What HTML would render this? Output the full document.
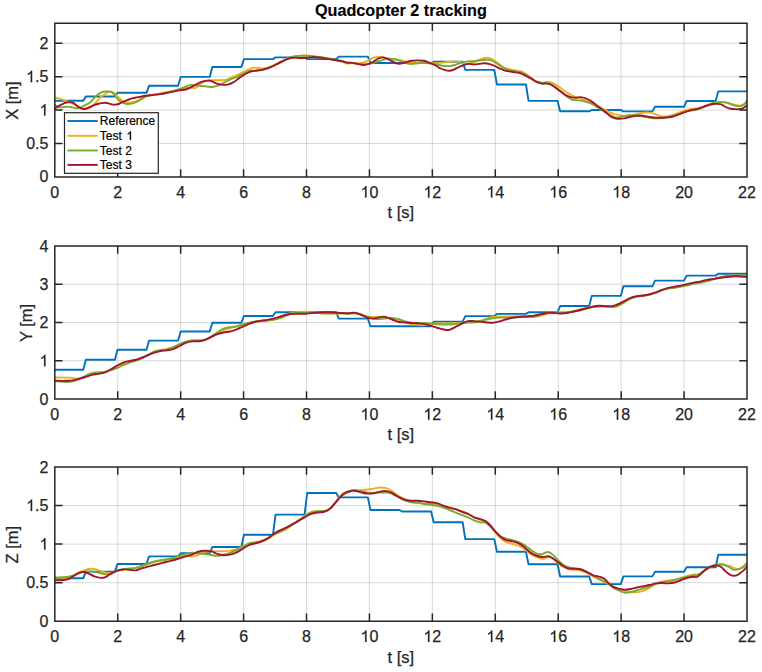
<!DOCTYPE html>
<html><head><meta charset="utf-8"><style>html,body{margin:0;padding:0;background:#fff;width:762px;height:672px;overflow:hidden}svg{display:block}text{stroke:currentColor;stroke-width:0.25px}.lg text{stroke-width:0.2px}text.ti{stroke-width:0.12px}</style></head>
<body>
<svg width="762" height="672" viewBox="0 0 762 672">
<rect width="762" height="672" fill="#fff"/>
<rect x="54.80" y="23.20" width="692.20" height="153.70" fill="#fff"/>
<line x1="117.73" y1="23.20" x2="117.73" y2="176.90" stroke="#262626" stroke-opacity="0.17" stroke-width="1"/>
<line x1="180.65" y1="23.20" x2="180.65" y2="176.90" stroke="#262626" stroke-opacity="0.17" stroke-width="1"/>
<line x1="243.58" y1="23.20" x2="243.58" y2="176.90" stroke="#262626" stroke-opacity="0.17" stroke-width="1"/>
<line x1="306.51" y1="23.20" x2="306.51" y2="176.90" stroke="#262626" stroke-opacity="0.17" stroke-width="1"/>
<line x1="369.44" y1="23.20" x2="369.44" y2="176.90" stroke="#262626" stroke-opacity="0.17" stroke-width="1"/>
<line x1="432.36" y1="23.20" x2="432.36" y2="176.90" stroke="#262626" stroke-opacity="0.17" stroke-width="1"/>
<line x1="495.29" y1="23.20" x2="495.29" y2="176.90" stroke="#262626" stroke-opacity="0.17" stroke-width="1"/>
<line x1="558.22" y1="23.20" x2="558.22" y2="176.90" stroke="#262626" stroke-opacity="0.17" stroke-width="1"/>
<line x1="621.15" y1="23.20" x2="621.15" y2="176.90" stroke="#262626" stroke-opacity="0.17" stroke-width="1"/>
<line x1="684.07" y1="23.20" x2="684.07" y2="176.90" stroke="#262626" stroke-opacity="0.17" stroke-width="1"/>
<line x1="54.80" y1="143.49" x2="747.00" y2="143.49" stroke="#262626" stroke-opacity="0.17" stroke-width="1"/>
<line x1="54.80" y1="110.07" x2="747.00" y2="110.07" stroke="#262626" stroke-opacity="0.17" stroke-width="1"/>
<line x1="54.80" y1="76.66" x2="747.00" y2="76.66" stroke="#262626" stroke-opacity="0.17" stroke-width="1"/>
<line x1="54.80" y1="43.25" x2="747.00" y2="43.25" stroke="#262626" stroke-opacity="0.17" stroke-width="1"/>
<g fill="none" stroke-width="1.90" stroke-linejoin="round" stroke-linecap="butt">
<path d="M54.80,100.80 L83.25,100.80 L85.85,96.50 L114.87,96.50 L117.47,92.80 L146.49,92.80 L149.09,85.70 L178.11,85.70 L180.71,76.90 L209.73,76.90 L212.33,67.00 L241.35,67.00 L243.95,59.10 L272.97,59.10 L275.57,57.40 L304.59,57.40 L307.19,59.10 L336.21,59.10 L338.81,56.60 L367.83,56.60 L370.43,63.00 L399.45,63.00 L402.05,63.00 L431.07,63.00 L433.67,61.80 L462.69,61.80 L465.29,69.90 L494.31,69.90 L496.91,84.50 L525.93,84.50 L528.53,100.90 L557.55,100.90 L560.15,111.30 L589.17,111.30 L591.77,110.00 L620.79,110.00 L623.39,111.40 L652.41,111.40 L655.01,106.75 L684.03,106.75 L686.63,101.00 L715.65,101.00 L718.25,91.40 L747.00,91.40" stroke="#0072BD"/>
<path d="M54.80,97.48 C55.76,97.70 58.51,98.14 60.56,98.80 C62.62,99.45 65.15,100.65 67.12,101.42 C69.09,102.19 70.84,102.68 72.37,103.39 C73.90,104.10 75.00,104.97 76.31,105.69 C77.62,106.40 78.93,107.16 80.25,107.65 C81.56,108.15 82.87,108.53 84.18,108.64 C85.50,108.75 86.81,108.69 88.12,108.31 C89.43,107.93 90.75,107.33 92.06,106.34 C93.37,105.36 94.68,103.83 95.99,102.40 C97.31,100.98 98.83,98.91 99.93,97.81 C101.04,96.71 101.63,96.53 102.62,95.81 C103.62,95.09 104.81,94.17 105.91,93.51 C107.00,92.86 108.20,92.20 109.19,91.87 C110.17,91.55 110.94,91.33 111.81,91.55 C112.69,91.76 113.56,92.48 114.44,93.19 C115.31,93.90 116.19,94.94 117.06,95.81 C117.94,96.69 118.81,97.62 119.69,98.44 C120.56,99.26 121.33,100.08 122.31,100.73 C123.29,101.39 124.50,102.04 125.59,102.37 C126.68,102.70 127.78,102.70 128.87,102.70 C129.97,102.70 130.95,102.65 132.15,102.37 C133.36,102.10 134.67,101.61 136.09,101.06 C137.51,100.51 139.04,99.86 140.68,99.09 C142.32,98.33 142.61,97.40 145.93,96.47 C149.25,95.53 156.05,94.41 160.60,93.50 C165.14,92.58 170.05,91.71 173.20,90.98 C176.35,90.24 177.40,89.61 179.50,89.09 C181.60,88.56 183.70,88.04 185.80,87.83 C187.90,87.62 190.41,87.83 192.09,87.83 C193.77,87.83 194.40,88.56 195.87,87.83 C197.34,87.09 199.02,84.57 200.91,83.42 C202.80,82.26 205.11,81.42 207.21,80.90 C209.31,80.37 211.41,80.37 213.51,80.27 C215.61,80.16 217.71,80.37 219.81,80.27 C221.91,80.16 223.80,80.27 226.11,79.64 C228.42,79.01 229.97,78.16 233.67,76.49 C237.37,74.82 245.02,71.07 248.30,69.61 C251.58,68.14 251.66,67.99 253.34,67.72 C255.02,67.44 256.70,67.86 258.38,67.97 C260.06,68.07 261.32,68.60 263.42,68.35 C265.52,68.09 268.67,67.30 270.98,66.46 C273.29,65.62 275.18,64.36 277.28,63.31 C279.38,62.26 281.48,61.10 283.57,60.16 C285.67,59.21 287.77,58.27 289.87,57.64 C291.97,57.01 294.07,56.69 296.17,56.38 C298.27,56.06 300.37,55.85 302.47,55.75 C304.57,55.64 306.67,55.64 308.77,55.75 C310.87,55.85 312.55,56.06 315.07,56.38 C317.59,56.69 319.56,56.80 323.89,57.64 C328.22,58.48 337.34,60.47 341.04,61.42 C344.74,62.36 344.19,62.99 346.08,63.31 C347.97,63.62 350.28,63.31 352.38,63.31 C354.48,63.31 356.79,63.45 358.68,63.31 C360.57,63.16 362.04,62.95 363.72,62.43 C365.40,61.90 367.08,60.96 368.76,60.16 C370.44,59.36 372.12,58.16 373.80,57.64 C375.48,57.11 377.15,57.01 378.83,57.01 C380.51,57.01 381.98,57.32 383.87,57.64 C385.76,57.95 388.07,58.52 390.17,58.90 C392.27,59.28 394.37,59.59 396.47,59.91 C398.57,60.22 400.67,60.43 402.77,60.79 C404.87,61.14 406.97,61.73 409.07,62.05 C411.17,62.36 413.27,62.57 415.37,62.68 C417.47,62.78 419.57,62.68 421.67,62.68 C423.77,62.68 425.53,62.59 427.97,62.68 C430.41,62.77 433.86,63.24 436.30,63.23 C438.74,63.22 440.50,62.81 442.60,62.60 C444.70,62.39 446.80,62.18 448.90,61.97 C451.00,61.76 453.31,61.34 455.20,61.34 C457.09,61.34 458.56,61.55 460.24,61.97 C461.92,62.39 463.60,63.65 465.28,63.86 C466.96,64.07 468.64,63.54 470.31,63.23 C471.99,62.91 473.67,62.60 475.35,61.97 C477.03,61.34 478.71,60.14 480.39,59.45 C482.07,58.76 483.96,58.08 485.43,57.81 C486.90,57.54 487.95,57.54 489.21,57.81 C490.47,58.08 491.52,58.55 492.99,59.45 C494.46,60.35 496.35,61.97 498.03,63.23 C499.71,64.49 501.39,66.06 503.07,67.01 C504.75,67.95 506.01,68.33 508.11,68.90 C510.21,69.46 513.36,69.95 515.67,70.41 C517.98,70.87 519.53,70.58 521.97,71.67 C524.41,72.76 527.86,75.32 530.30,76.93 C532.74,78.54 534.50,80.39 536.60,81.34 C538.70,82.28 540.80,82.49 542.90,82.60 C545.00,82.70 547.31,81.76 549.20,81.97 C551.09,82.18 552.56,83.02 554.24,83.86 C555.92,84.70 557.60,85.85 559.28,87.01 C560.96,88.16 562.64,89.63 564.31,90.79 C565.99,91.94 567.67,92.95 569.35,93.94 C571.03,94.92 572.71,95.97 574.39,96.71 C576.07,97.44 577.75,97.76 579.43,98.35 C581.11,98.93 582.79,99.61 584.47,100.24 C586.15,100.87 587.83,101.39 589.51,102.13 C591.19,102.86 592.87,103.81 594.55,104.65 C596.23,105.49 597.91,106.33 599.59,107.17 C601.27,108.01 602.95,108.85 604.63,109.69 C606.31,110.52 607.99,111.47 609.67,112.20 C611.35,112.94 612.27,113.49 614.71,114.09 C617.15,114.70 621.65,115.64 624.30,115.83 C626.95,116.01 628.50,115.51 630.60,115.20 C632.70,114.88 634.80,114.36 636.90,113.94 C639.00,113.52 641.10,112.89 643.20,112.68 C645.30,112.47 647.61,112.47 649.50,112.68 C651.39,112.89 652.86,113.41 654.54,113.94 C656.22,114.46 657.90,115.41 659.57,115.83 C661.25,116.25 662.93,116.46 664.61,116.46 C666.29,116.46 667.76,116.25 669.65,115.83 C671.54,115.41 673.85,114.67 675.95,113.94 C678.05,113.20 680.15,112.15 682.25,111.42 C684.35,110.68 686.45,109.99 688.55,109.53 C690.65,109.07 692.75,108.90 694.85,108.65 C696.95,108.39 699.33,108.46 701.15,108.02 C702.97,107.57 704.33,106.65 705.75,105.98 C707.17,105.32 708.37,104.54 709.69,104.02 C711.00,103.49 712.31,103.10 713.62,102.83 C714.93,102.57 716.25,102.57 717.56,102.44 C718.87,102.31 720.18,102.05 721.50,102.05 C722.81,102.05 724.12,102.24 725.43,102.44 C726.75,102.64 728.06,102.90 729.37,103.23 C730.68,103.56 731.99,104.08 733.31,104.41 C734.62,104.74 735.93,105.00 737.24,105.20 C738.56,105.39 740.00,105.72 741.18,105.59 C742.36,105.46 743.36,104.87 744.33,104.41 C745.30,103.95 746.56,103.10 747.00,102.83" stroke="#EDB120"/>
<path d="M54.80,104.70 C55.32,105.08 56.65,106.56 57.94,107.00 C59.23,107.43 61.00,107.38 62.53,107.33 C64.06,107.27 65.48,106.67 67.12,106.67 C68.76,106.67 70.73,107.05 72.37,107.33 C74.01,107.60 75.54,108.31 76.97,108.31 C78.39,108.31 79.48,107.87 80.90,107.33 C82.32,106.78 83.97,105.85 85.50,105.03 C87.03,104.21 88.56,103.66 90.09,102.40 C91.62,101.15 93.26,98.90 94.68,97.48 C96.10,96.06 97.19,94.83 98.62,93.87 C100.05,92.92 101.96,92.13 103.28,91.74 C104.60,91.35 105.36,91.58 106.56,91.55 C107.76,91.51 109.41,91.27 110.50,91.55 C111.59,91.82 112.25,92.37 113.12,93.19 C114.00,94.01 114.87,95.37 115.75,96.47 C116.62,97.56 117.50,98.87 118.37,99.75 C119.25,100.62 120.01,101.12 121.00,101.72 C121.98,102.32 123.18,102.97 124.28,103.36 C125.37,103.74 126.36,103.96 127.56,104.01 C128.76,104.07 130.18,103.96 131.50,103.69 C132.81,103.41 134.12,102.92 135.43,102.37 C136.75,101.83 138.06,101.12 139.37,100.40 C140.68,99.69 141.99,98.87 143.31,98.11 C144.62,97.34 144.36,96.54 147.24,95.81 C150.13,95.08 156.27,94.51 160.60,93.75 C164.92,92.98 170.05,92.01 173.20,91.23 C176.35,90.45 177.40,89.86 179.50,89.09 C181.60,88.31 183.91,87.26 185.80,86.57 C187.69,85.87 189.15,85.14 190.83,84.93 C192.51,84.72 194.19,85.14 195.87,85.31 C197.55,85.48 199.02,85.73 200.91,85.94 C202.80,86.15 205.32,86.40 207.21,86.57 C209.10,86.73 210.36,87.15 212.25,86.94 C214.14,86.73 216.66,86.00 218.55,85.31 C220.44,84.61 221.70,83.73 223.59,82.79 C225.48,81.84 227.79,80.58 229.89,79.64 C231.99,78.69 233.12,78.48 236.19,77.12 C239.26,75.76 245.23,72.58 248.30,71.50 C251.37,70.41 252.08,70.99 254.60,70.61 C257.12,70.24 260.69,69.88 263.42,69.23 C266.15,68.58 268.67,67.59 270.98,66.71 C273.29,65.83 275.18,64.92 277.28,63.94 C279.38,62.95 281.48,61.88 283.57,60.79 C285.67,59.70 287.77,58.16 289.87,57.39 C291.97,56.61 294.07,56.42 296.17,56.13 C298.27,55.83 300.37,55.69 302.47,55.62 C304.57,55.56 306.67,55.58 308.77,55.75 C310.87,55.92 312.55,56.31 315.07,56.63 C317.59,56.94 319.56,56.94 323.89,57.64 C328.22,58.33 337.34,59.99 341.04,60.79 C344.74,61.59 344.19,62.07 346.08,62.43 C347.97,62.78 350.28,62.68 352.38,62.93 C354.48,63.18 356.79,63.71 358.68,63.94 C360.57,64.17 362.04,64.31 363.72,64.31 C365.40,64.31 367.08,64.21 368.76,63.94 C370.44,63.66 371.91,63.20 373.80,62.68 C375.69,62.15 377.99,61.42 380.09,60.79 C382.19,60.16 384.50,59.25 386.39,58.90 C388.28,58.54 389.75,58.54 391.43,58.65 C393.11,58.75 394.79,59.11 396.47,59.53 C398.15,59.95 399.83,60.54 401.51,61.17 C403.19,61.80 404.87,62.85 406.55,63.31 C408.23,63.77 409.70,63.94 411.59,63.94 C413.48,63.94 415.79,63.52 417.89,63.31 C419.99,63.10 421.12,62.48 424.19,62.68 C427.26,62.87 433.23,63.98 436.30,64.49 C439.37,65.00 440.50,65.48 442.60,65.75 C444.70,66.02 446.80,66.27 448.90,66.13 C451.00,65.98 453.10,65.45 455.20,64.87 C457.30,64.28 459.40,63.19 461.50,62.60 C463.60,62.01 465.70,61.59 467.80,61.34 C469.90,61.09 471.99,61.25 474.09,61.09 C476.19,60.92 478.29,60.60 480.39,60.33 C482.49,60.06 485.01,59.49 486.69,59.45 C488.37,59.41 489.21,59.66 490.47,60.08 C491.73,60.50 492.78,61.13 494.25,61.97 C495.72,62.81 497.61,64.07 499.29,65.12 C500.97,66.17 502.65,67.43 504.33,68.27 C506.01,69.11 507.48,69.63 509.37,70.16 C511.26,70.68 513.57,71.00 515.67,71.42 C517.77,71.84 519.53,71.61 521.97,72.68 C524.41,73.74 527.86,76.26 530.30,77.81 C532.74,79.36 534.71,81.11 536.60,81.97 C538.49,82.83 539.96,82.87 541.64,82.98 C543.32,83.08 545.00,82.35 546.68,82.60 C548.36,82.85 550.04,83.54 551.72,84.49 C553.40,85.43 555.08,87.01 556.76,88.27 C558.44,89.53 560.12,90.68 561.80,92.05 C563.48,93.41 565.15,95.20 566.83,96.46 C568.51,97.72 570.19,98.98 571.87,99.61 C573.55,100.24 575.23,100.03 576.91,100.24 C578.59,100.45 580.27,100.55 581.95,100.87 C583.63,101.18 585.31,101.60 586.99,102.13 C588.67,102.65 590.35,103.18 592.03,104.02 C593.71,104.86 595.39,106.12 597.07,107.17 C598.75,108.22 600.43,109.27 602.11,110.31 C603.79,111.36 605.47,112.52 607.15,113.46 C608.83,114.41 610.51,115.29 612.19,115.98 C613.87,116.68 615.21,117.65 617.23,117.62 C619.25,117.60 622.07,116.23 624.30,115.83 C626.53,115.42 628.50,115.30 630.60,115.20 C632.70,115.09 634.80,114.99 636.90,115.20 C639.00,115.41 641.10,116.04 643.20,116.46 C645.30,116.88 647.40,117.40 649.50,117.72 C651.60,118.03 653.70,118.30 655.80,118.35 C657.90,118.39 659.99,118.18 662.09,117.97 C664.19,117.76 666.29,117.55 668.39,117.09 C670.49,116.62 672.59,115.83 674.69,115.20 C676.79,114.57 678.89,113.94 680.99,113.31 C683.09,112.68 685.19,111.94 687.29,111.42 C689.39,110.89 691.49,110.58 693.59,110.16 C695.69,109.74 697.86,109.59 699.89,108.90 C701.92,108.20 704.12,106.80 705.75,105.98 C707.38,105.17 708.37,104.54 709.69,104.02 C711.00,103.49 712.31,103.10 713.62,102.83 C714.93,102.57 716.25,102.60 717.56,102.44 C718.87,102.28 720.18,101.89 721.50,101.89 C722.81,101.89 724.12,102.15 725.43,102.44 C726.75,102.73 728.06,103.16 729.37,103.62 C730.68,104.08 731.99,104.80 733.31,105.20 C734.62,105.59 735.93,105.88 737.24,105.98 C738.56,106.09 740.00,106.15 741.18,105.83 C742.36,105.50 743.36,104.88 744.33,104.02 C745.30,103.15 746.56,101.19 747.00,100.63" stroke="#77AC30"/>
<path d="M54.80,108.64 C55.54,108.15 57.63,106.61 59.25,105.69 C60.87,104.76 62.75,103.66 64.50,103.06 C66.25,102.46 68.22,102.08 69.75,102.08 C71.28,102.08 72.37,102.35 73.69,103.06 C75.00,103.77 76.31,105.41 77.62,106.34 C78.93,107.27 80.36,108.20 81.56,108.64 C82.76,109.08 83.64,109.13 84.84,108.97 C86.04,108.80 87.36,108.26 88.78,107.65 C90.20,107.05 91.73,106.01 93.37,105.36 C95.01,104.70 97.08,104.10 98.62,103.72 C100.16,103.33 101.47,103.20 102.62,103.03 C103.78,102.86 104.59,102.65 105.58,102.70 C106.56,102.76 107.49,103.08 108.53,103.36 C109.57,103.63 110.72,104.12 111.81,104.34 C112.90,104.56 114.00,104.72 115.09,104.67 C116.19,104.61 117.28,104.40 118.37,104.01 C119.47,103.63 120.56,102.86 121.65,102.37 C122.75,101.88 123.84,101.50 124.93,101.06 C126.03,100.62 127.01,100.19 128.22,99.75 C129.42,99.31 130.84,98.82 132.15,98.44 C133.46,98.05 134.67,97.72 136.09,97.45 C137.51,97.18 139.15,97.07 140.68,96.80 C142.21,96.52 141.96,96.26 145.28,95.81 C148.59,95.37 156.99,94.62 160.60,94.13 C164.20,93.64 164.80,93.29 166.90,92.87 C169.00,92.45 171.10,92.03 173.20,91.61 C175.30,91.19 177.40,90.70 179.50,90.35 C181.60,89.99 184.12,89.88 185.80,89.46 C187.48,89.04 188.10,88.52 189.57,87.83 C191.04,87.13 192.72,86.25 194.61,85.31 C196.50,84.36 198.81,82.93 200.91,82.16 C203.01,81.38 205.53,80.86 207.21,80.65 C208.89,80.44 209.52,80.44 210.99,80.90 C212.46,81.36 214.35,82.79 216.03,83.42 C217.71,84.05 219.18,84.47 221.07,84.68 C222.96,84.89 225.27,85.10 227.37,84.68 C229.47,84.26 231.78,83.21 233.67,82.16 C235.56,81.11 236.69,79.78 238.71,78.38 C240.73,76.98 243.76,74.91 245.78,73.76 C247.80,72.62 248.93,72.02 250.82,71.50 C252.71,70.97 255.02,70.93 257.12,70.61 C259.22,70.30 261.11,70.19 263.42,69.61 C265.73,69.02 268.67,68.03 270.98,67.09 C273.29,66.14 275.18,64.99 277.28,63.94 C279.38,62.89 281.48,61.73 283.57,60.79 C285.67,59.84 287.98,58.79 289.87,58.27 C291.76,57.74 293.02,57.68 294.91,57.64 C296.80,57.60 299.11,58.02 301.21,58.02 C303.31,58.02 305.41,57.81 307.51,57.64 C309.61,57.47 311.71,57.01 313.81,57.01 C315.91,57.01 317.80,57.32 320.11,57.64 C322.42,57.95 324.18,58.31 327.67,58.90 C331.16,59.49 337.97,60.58 341.04,61.17 C344.11,61.75 344.19,62.13 346.08,62.43 C347.97,62.72 350.28,62.64 352.38,62.93 C354.48,63.22 356.79,63.85 358.68,64.19 C360.57,64.52 362.04,64.99 363.72,64.94 C365.40,64.90 367.08,64.52 368.76,63.94 C370.44,63.35 372.12,62.36 373.80,61.42 C375.48,60.47 377.26,58.94 378.83,58.27 C380.41,57.60 381.56,57.18 383.24,57.39 C384.92,57.60 387.13,58.75 388.91,59.53 C390.70,60.30 392.27,61.35 393.95,62.05 C395.63,62.74 397.10,63.62 398.99,63.69 C400.88,63.75 403.19,62.91 405.29,62.43 C407.39,61.94 409.49,61.12 411.59,60.79 C413.69,60.45 415.79,60.41 417.89,60.41 C419.99,60.41 422.30,60.41 424.19,60.79 C426.08,61.17 427.42,61.96 429.23,62.68 C431.04,63.40 433.23,64.19 435.04,65.12 C436.85,66.05 438.40,67.43 440.08,68.27 C441.76,69.11 443.54,69.74 445.12,70.16 C446.69,70.58 448.06,70.89 449.53,70.79 C451.00,70.68 452.36,70.16 453.94,69.53 C455.51,68.90 457.30,67.78 458.98,67.01 C460.66,66.23 462.34,65.39 464.02,64.87 C465.70,64.34 467.38,63.92 469.06,63.86 C470.73,63.80 472.41,64.49 474.09,64.49 C475.77,64.49 477.45,64.07 479.13,63.86 C480.81,63.65 482.49,63.23 484.17,63.23 C485.85,63.23 487.53,63.44 489.21,63.86 C490.89,64.28 492.57,65.01 494.25,65.75 C495.93,66.48 497.61,67.49 499.29,68.27 C500.97,69.04 502.65,69.88 504.33,70.41 C506.01,70.93 507.48,71.08 509.37,71.42 C511.26,71.75 513.78,72.11 515.67,72.43 C517.56,72.74 518.27,72.35 520.71,73.31 C523.15,74.27 527.65,76.75 530.30,78.19 C532.95,79.63 534.71,81.07 536.60,81.97 C538.49,82.87 539.96,83.33 541.64,83.61 C543.32,83.88 545.21,83.46 546.68,83.61 C548.15,83.75 548.99,83.82 550.46,84.49 C551.93,85.16 553.82,86.48 555.50,87.64 C557.18,88.79 558.86,90.16 560.54,91.42 C562.22,92.68 563.90,94.25 565.57,95.20 C567.25,96.14 568.93,96.67 570.61,97.09 C572.29,97.51 573.97,97.72 575.65,97.72 C577.33,97.72 579.01,96.98 580.69,97.09 C582.37,97.19 584.05,97.72 585.73,98.35 C587.41,98.98 589.09,99.82 590.77,100.87 C592.45,101.92 594.13,103.39 595.81,104.65 C597.49,105.91 599.17,107.17 600.85,108.43 C602.53,109.69 604.21,110.84 605.89,112.20 C607.57,113.57 609.25,115.56 610.93,116.61 C612.61,117.66 613.74,118.22 615.97,118.50 C618.20,118.79 621.86,118.65 624.30,118.35 C626.74,118.05 628.50,117.13 630.60,116.71 C632.70,116.29 635.22,116.02 636.90,115.83 C638.58,115.64 639.00,115.47 640.68,115.57 C642.36,115.68 644.88,116.14 646.98,116.46 C649.08,116.77 651.18,117.25 653.28,117.46 C655.38,117.67 657.48,117.72 659.57,117.72 C661.67,117.72 663.77,117.63 665.87,117.46 C667.97,117.30 670.07,117.19 672.17,116.71 C674.27,116.23 676.37,115.34 678.47,114.57 C680.57,113.79 682.67,112.78 684.77,112.05 C686.87,111.31 688.97,110.68 691.07,110.16 C693.17,109.63 694.92,109.59 697.37,108.90 C699.82,108.20 703.70,106.67 705.75,105.98 C707.80,105.30 708.37,105.13 709.69,104.80 C711.00,104.48 712.31,104.17 713.62,104.02 C714.93,103.86 716.25,103.79 717.56,103.86 C718.87,103.92 720.45,104.06 721.50,104.41 C722.55,104.76 722.94,105.46 723.86,105.98 C724.78,106.51 725.83,107.10 727.01,107.56 C728.19,108.02 729.63,108.48 730.94,108.74 C732.26,109.00 733.57,109.07 734.88,109.13 C736.19,109.20 737.51,109.27 738.82,109.13 C740.13,109.00 741.71,108.74 742.76,108.35 C743.81,107.95 744.41,107.27 745.12,106.77 C745.83,106.27 746.69,105.59 747.00,105.35" stroke="#A2142F"/>
</g>
<path d="M54.80,23.20H747.00V176.90H54.80ZM117.73,176.90V169.20M117.73,23.20V30.90M180.65,176.90V169.20M180.65,23.20V30.90M243.58,176.90V169.20M243.58,23.20V30.90M306.51,176.90V169.20M306.51,23.20V30.90M369.44,176.90V169.20M369.44,23.20V30.90M432.36,176.90V169.20M432.36,23.20V30.90M495.29,176.90V169.20M495.29,23.20V30.90M558.22,176.90V169.20M558.22,23.20V30.90M621.15,176.90V169.20M621.15,23.20V30.90M684.07,176.90V169.20M684.07,23.20V30.90M54.80,143.49H62.50M747.00,143.49H739.30M54.80,110.07H62.50M747.00,110.07H739.30M54.80,76.66H62.50M747.00,76.66H739.30M54.80,43.25H62.50M747.00,43.25H739.30" fill="none" stroke="#262626" stroke-width="1.5"/>
<g font-family="&quot;Liberation Sans&quot;, sans-serif" font-size="16" fill="#262626" color="#262626">
<text x="50.352" y="197.600">0</text>
<text x="113.279" y="197.600">2</text>
<text x="176.207" y="197.600">4</text>
<text x="239.134" y="197.600">6</text>
<text x="302.061" y="197.600">8</text>
<path d="M763 0L583 0L583 1147Q518 1085 412 1023Q307 961 223 930L223 1104Q374 1175 487 1276Q600 1377 647 1472L763 1472Z" transform="translate(360.540,197.600) scale(0.00781,-0.00781)" fill="#262626" stroke="#262626" stroke-width="32.000"/><text x="369.436" y="197.600">0</text>
<path d="M763 0L583 0L583 1147Q518 1085 412 1023Q307 961 223 930L223 1104Q374 1175 487 1276Q600 1377 647 1472L763 1472Z" transform="translate(423.468,197.600) scale(0.00781,-0.00781)" fill="#262626" stroke="#262626" stroke-width="32.000"/><text x="432.364" y="197.600">2</text>
<path d="M763 0L583 0L583 1147Q518 1085 412 1023Q307 961 223 930L223 1104Q374 1175 487 1276Q600 1377 647 1472L763 1472Z" transform="translate(486.395,197.600) scale(0.00781,-0.00781)" fill="#262626" stroke="#262626" stroke-width="32.000"/><text x="495.291" y="197.600">4</text>
<path d="M763 0L583 0L583 1147Q518 1085 412 1023Q307 961 223 930L223 1104Q374 1175 487 1276Q600 1377 647 1472L763 1472Z" transform="translate(549.322,197.600) scale(0.00781,-0.00781)" fill="#262626" stroke="#262626" stroke-width="32.000"/><text x="558.218" y="197.600">6</text>
<path d="M763 0L583 0L583 1147Q518 1085 412 1023Q307 961 223 930L223 1104Q374 1175 487 1276Q600 1377 647 1472L763 1472Z" transform="translate(612.249,197.600) scale(0.00781,-0.00781)" fill="#262626" stroke="#262626" stroke-width="32.000"/><text x="621.145" y="197.600">8</text>
<text x="675.177" y="197.600">20</text>
<text x="738.104" y="197.600">22</text>
<text x="39.504" y="182.400">0</text>
<text x="26.163" y="148.987">0.5</text>
<path d="M763 0L583 0L583 1147Q518 1085 412 1023Q307 961 223 930L223 1104Q374 1175 487 1276Q600 1377 647 1472L763 1472Z" transform="translate(39.504,115.574) scale(0.00781,-0.00781)" fill="#262626" stroke="#262626" stroke-width="32.000"/>
<path d="M763 0L583 0L583 1147Q518 1085 412 1023Q307 961 223 930L223 1104Q374 1175 487 1276Q600 1377 647 1472L763 1472Z" transform="translate(26.163,82.161) scale(0.00781,-0.00781)" fill="#262626" stroke="#262626" stroke-width="32.000"/><text x="35.059" y="82.161">.5</text>
<text x="39.504" y="48.748">2</text>
</g>
<text x="400.90" y="218.30" text-anchor="middle" font-family="&quot;Liberation Sans&quot;, sans-serif" font-size="16.5" fill="#262626" color="#262626">t [s]</text>
<text transform="translate(17.90,100.55) rotate(-90)" text-anchor="middle" font-family="&quot;Liberation Sans&quot;, sans-serif" font-size="16.5" fill="#262626" color="#262626">X [m]</text>
<rect x="64.50" y="112.70" width="93.80" height="60.60" fill="#fff" stroke="#262626" stroke-width="1.2"/>
<line x1="67.4" y1="121.00" x2="97.7" y2="121.00" stroke="#0072BD" stroke-width="1.90"/>
<g font-family="&quot;Liberation Sans&quot;, sans-serif" font-size="12" fill="#000" color="#000" class="lg"><text x="99.8" y="125.20">Reference</text></g>
<line x1="67.4" y1="135.80" x2="97.7" y2="135.80" stroke="#EDB120" stroke-width="1.90"/>
<g font-family="&quot;Liberation Sans&quot;, sans-serif" font-size="12" fill="#000" color="#000" class="lg"><text x="99.800" y="140.000">Test </text><path d="M763 0L583 0L583 1147Q518 1085 412 1023Q307 961 223 930L223 1104Q374 1175 487 1276Q600 1377 647 1472L763 1472Z" transform="translate(126.469,140.000) scale(0.00586,-0.00586)" fill="#000" stroke="#000" stroke-width="42.667"/></g>
<line x1="67.4" y1="150.50" x2="97.7" y2="150.50" stroke="#77AC30" stroke-width="1.90"/>
<g font-family="&quot;Liberation Sans&quot;, sans-serif" font-size="12" fill="#000" color="#000" class="lg"><text x="99.800" y="154.700">Test 2</text></g>
<line x1="67.4" y1="164.90" x2="97.7" y2="164.90" stroke="#A2142F" stroke-width="1.90"/>
<g font-family="&quot;Liberation Sans&quot;, sans-serif" font-size="12" fill="#000" color="#000" class="lg"><text x="99.800" y="169.100">Test 3</text></g>
<rect x="54.80" y="246.00" width="692.20" height="153.00" fill="#fff"/>
<line x1="117.73" y1="246.00" x2="117.73" y2="399.00" stroke="#262626" stroke-opacity="0.17" stroke-width="1"/>
<line x1="180.65" y1="246.00" x2="180.65" y2="399.00" stroke="#262626" stroke-opacity="0.17" stroke-width="1"/>
<line x1="243.58" y1="246.00" x2="243.58" y2="399.00" stroke="#262626" stroke-opacity="0.17" stroke-width="1"/>
<line x1="306.51" y1="246.00" x2="306.51" y2="399.00" stroke="#262626" stroke-opacity="0.17" stroke-width="1"/>
<line x1="369.44" y1="246.00" x2="369.44" y2="399.00" stroke="#262626" stroke-opacity="0.17" stroke-width="1"/>
<line x1="432.36" y1="246.00" x2="432.36" y2="399.00" stroke="#262626" stroke-opacity="0.17" stroke-width="1"/>
<line x1="495.29" y1="246.00" x2="495.29" y2="399.00" stroke="#262626" stroke-opacity="0.17" stroke-width="1"/>
<line x1="558.22" y1="246.00" x2="558.22" y2="399.00" stroke="#262626" stroke-opacity="0.17" stroke-width="1"/>
<line x1="621.15" y1="246.00" x2="621.15" y2="399.00" stroke="#262626" stroke-opacity="0.17" stroke-width="1"/>
<line x1="684.07" y1="246.00" x2="684.07" y2="399.00" stroke="#262626" stroke-opacity="0.17" stroke-width="1"/>
<line x1="54.80" y1="360.75" x2="747.00" y2="360.75" stroke="#262626" stroke-opacity="0.17" stroke-width="1"/>
<line x1="54.80" y1="322.50" x2="747.00" y2="322.50" stroke="#262626" stroke-opacity="0.17" stroke-width="1"/>
<line x1="54.80" y1="284.25" x2="747.00" y2="284.25" stroke="#262626" stroke-opacity="0.17" stroke-width="1"/>
<g fill="none" stroke-width="1.90" stroke-linejoin="round" stroke-linecap="butt">
<path d="M54.80,369.80 L83.25,369.80 L85.85,359.75 L114.87,359.75 L117.47,349.70 L146.49,349.70 L149.09,340.60 L178.11,340.60 L180.71,331.50 L209.73,331.50 L212.33,322.70 L241.35,322.70 L243.95,316.00 L272.97,316.00 L275.57,312.30 L304.59,312.30 L307.19,312.30 L336.21,312.30 L338.81,318.60 L367.83,318.60 L370.43,326.20 L399.45,326.20 L402.05,326.20 L431.07,326.20 L433.67,321.70 L462.69,321.70 L465.29,316.10 L494.31,316.10 L496.91,313.90 L525.93,313.90 L528.53,312.30 L557.55,312.30 L560.15,306.00 L589.17,306.00 L591.77,295.90 L620.79,295.90 L623.39,286.30 L652.41,286.30 L655.01,280.60 L684.03,280.60 L686.63,275.60 L715.65,275.60 L718.25,273.80 L747.00,273.80" stroke="#0072BD"/>
<path d="M54.80,377.40 C57.19,377.44 65.47,377.44 69.12,377.65 C72.76,377.86 74.58,378.62 76.68,378.66 C78.78,378.70 80.25,378.33 81.72,377.91 C83.19,377.49 83.82,376.86 85.50,376.14 C87.18,375.43 89.70,374.21 91.80,373.62 C93.90,373.03 95.99,372.87 98.09,372.61 C100.19,372.36 102.29,372.53 104.39,372.11 C106.49,371.69 108.59,370.81 110.69,370.09 C112.79,369.38 114.89,368.77 116.99,367.83 C119.09,366.88 121.19,365.35 123.29,364.43 C125.39,363.50 127.49,362.96 129.59,362.28 C131.69,361.61 133.79,361.09 135.89,360.39 C137.99,359.70 139.12,359.58 142.19,358.13 C145.26,356.67 151.23,352.98 154.30,351.65 C157.37,350.32 158.50,350.56 160.60,350.14 C162.70,349.72 164.80,349.57 166.90,349.13 C169.00,348.69 171.10,348.29 173.20,347.50 C175.30,346.70 177.40,345.29 179.50,344.35 C181.60,343.40 183.70,342.44 185.80,341.83 C187.90,341.22 189.99,340.90 192.09,340.69 C194.19,340.48 196.29,340.73 198.39,340.57 C200.49,340.40 202.59,340.31 204.69,339.69 C206.79,339.06 208.89,337.90 210.99,336.79 C213.09,335.67 215.19,334.10 217.29,333.01 C219.39,331.92 221.49,331.01 223.59,330.24 C225.69,329.46 227.79,328.98 229.89,328.35 C231.99,327.72 233.12,327.35 236.19,326.46 C239.26,325.56 245.23,323.77 248.30,322.98 C251.37,322.19 252.50,322.03 254.60,321.72 C256.70,321.40 258.80,321.30 260.90,321.09 C263.00,320.88 265.10,320.71 267.20,320.46 C269.30,320.20 271.40,320.04 273.50,319.57 C275.60,319.11 277.70,318.48 279.80,317.69 C281.90,316.89 283.99,315.59 286.09,314.79 C288.19,313.99 290.29,313.38 292.39,312.90 C294.49,312.41 296.59,312.10 298.69,311.89 C300.79,311.68 302.89,311.53 304.99,311.64 C307.09,311.74 309.19,312.31 311.29,312.52 C313.39,312.73 315.49,312.77 317.59,312.90 C319.69,313.02 321.79,313.17 323.89,313.28 C325.99,313.38 327.12,313.47 330.19,313.53 C333.26,313.58 339.23,313.55 342.30,313.61 C345.37,313.66 346.50,313.92 348.60,313.86 C350.70,313.80 352.80,313.06 354.90,313.23 C357.00,313.40 359.10,314.34 361.20,314.87 C363.30,315.39 365.40,316.02 367.50,316.38 C369.60,316.73 371.70,316.90 373.80,317.01 C375.90,317.11 377.99,316.90 380.09,317.01 C382.19,317.11 384.29,317.36 386.39,317.64 C388.49,317.91 390.59,318.23 392.69,318.65 C394.79,319.07 396.89,319.53 398.99,320.16 C401.09,320.79 403.19,321.80 405.29,322.43 C407.39,323.06 409.49,323.58 411.59,323.94 C413.69,324.29 415.79,324.36 417.89,324.57 C419.99,324.78 421.12,325.41 424.19,325.20 C427.26,324.99 433.23,323.62 436.30,323.31 C439.37,322.99 440.50,323.31 442.60,323.31 C444.70,323.31 446.80,323.35 448.90,323.31 C451.00,323.27 453.10,323.12 455.20,323.06 C457.30,322.99 459.40,323.03 461.50,322.93 C463.60,322.82 465.70,322.57 467.80,322.43 C469.90,322.28 471.99,322.32 474.09,322.05 C476.19,321.77 478.29,321.35 480.39,320.79 C482.49,320.22 484.59,319.28 486.69,318.65 C488.79,318.02 490.89,317.39 492.99,317.01 C495.09,316.63 497.19,316.48 499.29,316.38 C501.39,316.27 503.49,316.38 505.59,316.38 C507.69,316.38 509.79,316.42 511.89,316.38 C513.99,316.34 515.12,316.03 518.19,316.13 C521.26,316.22 527.23,316.87 530.30,316.94 C533.37,317.02 534.50,316.88 536.60,316.57 C538.70,316.25 540.80,315.62 542.90,315.06 C545.00,314.49 547.10,313.59 549.20,313.17 C551.30,312.75 553.40,312.68 555.50,312.54 C557.60,312.39 559.70,312.39 561.80,312.28 C563.90,312.18 565.99,312.12 568.09,311.91 C570.19,311.70 572.29,311.44 574.39,311.02 C576.49,310.60 578.59,309.93 580.69,309.39 C582.79,308.84 584.89,308.17 586.99,307.75 C589.09,307.33 591.19,307.08 593.29,306.87 C595.39,306.66 597.49,306.59 599.59,306.49 C601.69,306.38 603.79,306.28 605.89,306.24 C607.99,306.19 609.12,307.04 612.19,306.24 C615.26,305.43 621.23,302.79 624.30,301.42 C627.37,300.05 628.50,298.86 630.60,298.02 C632.70,297.18 634.80,296.76 636.90,296.38 C639.00,296.00 641.10,296.04 643.20,295.75 C645.30,295.45 647.40,295.14 649.50,294.61 C651.60,294.09 653.70,293.35 655.80,292.60 C657.90,291.84 659.99,290.81 662.09,290.08 C664.19,289.34 666.29,288.71 668.39,288.19 C670.49,287.66 672.59,287.31 674.69,286.93 C676.79,286.55 678.89,286.34 680.99,285.92 C683.09,285.50 685.19,284.91 687.29,284.41 C689.39,283.91 691.49,283.32 693.59,282.90 C695.69,282.48 697.86,282.23 699.89,281.89 C701.92,281.55 703.46,281.36 705.75,280.87 C708.04,280.37 711.00,279.55 713.62,278.90 C716.25,278.24 718.87,277.45 721.50,276.93 C724.12,276.40 726.75,275.97 729.37,275.75 C731.99,275.52 734.31,275.59 737.24,275.59 C740.18,275.59 745.37,275.72 747.00,275.75" stroke="#EDB120"/>
<path d="M54.80,381.18 C56.77,381.33 63.58,382.02 66.60,382.06 C69.61,382.10 70.80,381.96 72.90,381.43 C75.00,380.91 77.10,379.86 79.20,378.91 C81.30,377.97 83.40,376.71 85.50,375.76 C87.60,374.82 89.70,373.81 91.80,373.24 C93.90,372.68 95.99,372.57 98.09,372.36 C100.19,372.15 102.29,372.36 104.39,371.98 C106.49,371.61 108.59,370.72 110.69,370.09 C112.79,369.46 114.89,369.04 116.99,368.20 C119.09,367.36 121.19,366.00 123.29,365.06 C125.39,364.11 127.49,363.27 129.59,362.54 C131.69,361.80 133.79,361.38 135.89,360.65 C137.99,359.91 139.12,359.62 142.19,358.13 C145.26,356.63 151.23,352.98 154.30,351.65 C157.37,350.32 158.50,350.56 160.60,350.14 C162.70,349.72 164.80,349.62 166.90,349.13 C169.00,348.65 171.10,348.08 173.20,347.24 C175.30,346.40 177.40,345.04 179.50,344.09 C181.60,343.15 183.70,342.16 185.80,341.57 C187.90,340.99 189.99,340.73 192.09,340.57 C194.19,340.40 196.29,340.71 198.39,340.57 C200.49,340.42 202.59,340.36 204.69,339.69 C206.79,339.01 208.89,337.73 210.99,336.54 C213.09,335.34 215.19,333.81 217.29,332.50 C219.39,331.20 221.49,329.63 223.59,328.72 C225.69,327.82 227.79,327.46 229.89,327.09 C231.99,326.71 233.12,327.14 236.19,326.46 C239.26,325.77 245.23,323.77 248.30,322.98 C251.37,322.19 252.50,322.03 254.60,321.72 C256.70,321.40 258.80,321.30 260.90,321.09 C263.00,320.88 265.10,320.67 267.20,320.46 C269.30,320.25 271.40,320.20 273.50,319.83 C275.60,319.45 277.70,318.88 279.80,318.19 C281.90,317.50 283.99,316.45 286.09,315.67 C288.19,314.89 290.29,314.03 292.39,313.53 C294.49,313.02 296.59,312.79 298.69,312.65 C300.79,312.50 302.89,312.60 304.99,312.65 C307.09,312.69 309.19,312.81 311.29,312.90 C313.39,312.98 315.49,313.04 317.59,313.15 C319.69,313.25 321.79,313.46 323.89,313.53 C325.99,313.59 327.12,313.58 330.19,313.53 C333.26,313.48 339.23,313.22 342.30,313.23 C345.37,313.24 346.50,313.71 348.60,313.61 C350.70,313.50 352.80,312.45 354.90,312.60 C357.00,312.75 359.10,313.75 361.20,314.49 C363.30,315.22 365.40,316.31 367.50,317.01 C369.60,317.70 371.70,318.29 373.80,318.65 C375.90,319.00 377.99,319.21 380.09,319.15 C382.19,319.09 384.29,318.48 386.39,318.27 C388.49,318.06 390.59,317.74 392.69,317.89 C394.79,318.04 396.89,318.56 398.99,319.15 C401.09,319.74 403.19,320.83 405.29,321.42 C407.39,322.01 409.49,322.36 411.59,322.68 C413.69,322.99 415.79,323.27 417.89,323.31 C419.99,323.35 421.12,322.82 424.19,322.93 C427.26,323.03 433.23,323.66 436.30,323.94 C439.37,324.21 440.50,324.46 442.60,324.57 C444.70,324.67 446.80,324.67 448.90,324.57 C451.00,324.46 453.10,324.25 455.20,323.94 C457.30,323.62 459.40,322.93 461.50,322.68 C463.60,322.43 465.70,322.47 467.80,322.43 C469.90,322.38 471.99,322.59 474.09,322.43 C476.19,322.26 478.29,321.90 480.39,321.42 C482.49,320.93 484.59,320.05 486.69,319.53 C488.79,319.00 490.89,318.58 492.99,318.27 C495.09,317.95 497.19,317.74 499.29,317.64 C501.39,317.53 503.49,317.68 505.59,317.64 C507.69,317.60 509.79,317.49 511.89,317.39 C513.99,317.28 515.12,317.08 518.19,317.01 C521.26,316.93 527.23,317.06 530.30,316.94 C533.37,316.83 534.50,316.80 536.60,316.31 C538.70,315.83 540.80,314.78 542.90,314.05 C545.00,313.31 547.10,312.20 549.20,311.91 C551.30,311.61 553.40,312.14 555.50,312.28 C557.60,312.43 559.70,312.75 561.80,312.79 C563.90,312.83 565.99,312.72 568.09,312.54 C570.19,312.35 572.29,312.03 574.39,311.65 C576.49,311.28 578.59,310.79 580.69,310.27 C582.79,309.74 584.89,309.07 586.99,308.50 C589.09,307.94 591.19,307.24 593.29,306.87 C595.39,306.49 597.49,306.34 599.59,306.24 C601.69,306.13 603.79,306.13 605.89,306.24 C607.99,306.34 610.30,306.87 612.19,306.87 C614.08,306.87 615.21,306.98 617.23,306.24 C619.25,305.50 622.07,303.69 624.30,302.43 C626.53,301.16 628.50,299.63 630.60,298.65 C632.70,297.66 634.80,296.99 636.90,296.50 C639.00,296.02 641.10,296.02 643.20,295.75 C645.30,295.48 647.40,295.37 649.50,294.87 C651.60,294.36 653.70,293.50 655.80,292.72 C657.90,291.95 659.99,290.90 662.09,290.20 C664.19,289.51 666.29,288.99 668.39,288.57 C670.49,288.15 672.59,288.00 674.69,287.69 C676.79,287.37 678.89,287.06 680.99,286.68 C683.09,286.30 685.19,285.88 687.29,285.42 C689.39,284.96 691.49,284.33 693.59,283.91 C695.69,283.49 697.86,283.27 699.89,282.90 C701.92,282.52 703.46,282.25 705.75,281.65 C708.04,281.05 711.00,280.08 713.62,279.29 C716.25,278.50 718.87,277.52 721.50,276.93 C724.12,276.34 726.75,276.01 729.37,275.75 C731.99,275.49 734.31,275.46 737.24,275.35 C740.18,275.25 745.37,275.16 747.00,275.12" stroke="#77AC30"/>
<path d="M54.80,380.80 C56.77,380.80 63.58,380.87 66.60,380.80 C69.61,380.74 70.80,380.74 72.90,380.43 C75.00,380.11 77.10,379.48 79.20,378.91 C81.30,378.35 83.40,377.70 85.50,377.02 C87.60,376.35 89.70,375.41 91.80,374.88 C93.90,374.36 95.99,374.25 98.09,373.87 C100.19,373.50 102.29,373.35 104.39,372.61 C106.49,371.88 108.59,370.62 110.69,369.46 C112.79,368.31 114.89,366.84 116.99,365.69 C119.09,364.53 121.19,363.31 123.29,362.54 C125.39,361.76 127.49,361.49 129.59,361.02 C131.69,360.56 133.79,360.35 135.89,359.76 C137.99,359.18 139.12,358.68 142.19,357.50 C145.26,356.31 151.23,353.74 154.30,352.66 C157.37,351.58 158.50,351.40 160.60,351.02 C162.70,350.65 164.80,350.71 166.90,350.39 C169.00,350.08 171.10,349.87 173.20,349.13 C175.30,348.40 177.40,347.03 179.50,345.98 C181.60,344.93 183.70,343.61 185.80,342.83 C187.90,342.06 189.99,341.60 192.09,341.32 C194.19,341.05 196.29,341.41 198.39,341.20 C200.49,340.99 202.59,340.73 204.69,340.06 C206.79,339.39 208.89,338.17 210.99,337.17 C213.09,336.16 215.19,334.79 217.29,334.02 C219.39,333.24 221.49,332.92 223.59,332.50 C225.69,332.08 227.79,331.98 229.89,331.50 C231.99,331.01 233.12,330.82 236.19,329.61 C239.26,328.40 245.23,325.51 248.30,324.24 C251.37,322.96 252.50,322.56 254.60,321.97 C256.70,321.38 258.80,321.07 260.90,320.71 C263.00,320.35 265.10,320.18 267.20,319.83 C269.30,319.47 271.40,319.09 273.50,318.57 C275.60,318.04 277.70,317.31 279.80,316.68 C281.90,316.05 283.99,315.25 286.09,314.79 C288.19,314.33 290.29,314.07 292.39,313.91 C294.49,313.74 296.59,313.80 298.69,313.78 C300.79,313.76 302.89,313.88 304.99,313.78 C307.09,313.67 309.19,313.34 311.29,313.15 C313.39,312.96 315.49,312.79 317.59,312.65 C319.69,312.50 321.79,312.33 323.89,312.27 C325.99,312.20 327.12,312.15 330.19,312.27 C333.26,312.39 339.23,312.82 342.30,312.98 C345.37,313.14 346.50,313.25 348.60,313.23 C350.70,313.21 352.80,312.58 354.90,312.85 C357.00,313.12 359.10,314.07 361.20,314.87 C363.30,315.66 365.40,317.01 367.50,317.64 C369.60,318.27 371.91,318.69 373.80,318.65 C375.69,318.60 377.15,317.72 378.83,317.39 C380.51,317.05 382.19,316.48 383.87,316.63 C385.55,316.78 387.23,317.68 388.91,318.27 C390.59,318.86 392.27,319.53 393.95,320.16 C395.63,320.79 397.10,321.67 398.99,322.05 C400.88,322.43 403.19,322.28 405.29,322.43 C407.39,322.57 409.49,322.78 411.59,322.93 C413.69,323.08 415.79,323.10 417.89,323.31 C419.99,323.52 421.12,323.50 424.19,324.19 C427.26,324.88 433.23,326.62 436.30,327.46 C439.37,328.30 440.50,328.81 442.60,329.23 C444.70,329.65 446.80,330.34 448.90,329.98 C451.00,329.63 453.10,328.09 455.20,327.09 C457.30,326.08 459.40,324.92 461.50,323.94 C463.60,322.95 465.70,321.63 467.80,321.17 C469.90,320.70 471.99,321.08 474.09,321.17 C476.19,321.25 478.29,321.46 480.39,321.67 C482.49,321.88 484.59,322.26 486.69,322.43 C488.79,322.59 490.89,322.85 492.99,322.68 C495.09,322.51 497.19,321.94 499.29,321.42 C501.39,320.89 503.49,320.12 505.59,319.53 C507.69,318.94 509.79,318.31 511.89,317.89 C513.99,317.47 515.12,317.31 518.19,317.01 C521.26,316.70 527.23,316.39 530.30,316.06 C533.37,315.74 534.50,315.43 536.60,315.06 C538.70,314.68 540.80,314.17 542.90,313.80 C545.00,313.42 547.10,312.89 549.20,312.79 C551.30,312.68 553.40,313.04 555.50,313.17 C557.60,313.29 559.70,313.61 561.80,313.54 C563.90,313.48 565.99,313.17 568.09,312.79 C570.19,312.41 572.29,311.78 574.39,311.28 C576.49,310.77 578.59,310.29 580.69,309.76 C582.79,309.24 584.89,308.67 586.99,308.13 C589.09,307.58 591.19,306.89 593.29,306.49 C595.39,306.09 597.49,305.77 599.59,305.73 C601.69,305.69 603.79,306.15 605.89,306.24 C607.99,306.32 610.30,306.49 612.19,306.24 C614.08,305.98 615.21,305.57 617.23,304.72 C619.25,303.88 622.07,302.33 624.30,301.17 C626.53,300.01 628.50,298.60 630.60,297.76 C632.70,296.92 634.80,296.50 636.90,296.13 C639.00,295.75 641.10,295.81 643.20,295.50 C645.30,295.18 647.40,294.76 649.50,294.24 C651.60,293.71 653.70,293.08 655.80,292.35 C657.90,291.61 659.99,290.56 662.09,289.83 C664.19,289.09 666.29,288.46 668.39,287.94 C670.49,287.41 672.59,287.06 674.69,286.68 C676.79,286.30 678.89,286.09 680.99,285.67 C683.09,285.25 685.19,284.66 687.29,284.16 C689.39,283.65 691.49,283.07 693.59,282.65 C695.69,282.23 697.86,282.07 699.89,281.64 C701.92,281.21 703.46,280.54 705.75,280.08 C708.04,279.62 711.00,279.29 713.62,278.90 C716.25,278.50 718.87,278.08 721.50,277.72 C724.12,277.35 727.01,276.93 729.37,276.69 C731.73,276.46 733.70,276.33 735.67,276.30 C737.64,276.27 739.29,276.43 741.18,276.54 C743.07,276.64 746.03,276.86 747.00,276.93" stroke="#A2142F"/>
</g>
<path d="M54.80,246.00H747.00V399.00H54.80ZM117.73,399.00V391.30M117.73,246.00V253.70M180.65,399.00V391.30M180.65,246.00V253.70M243.58,399.00V391.30M243.58,246.00V253.70M306.51,399.00V391.30M306.51,246.00V253.70M369.44,399.00V391.30M369.44,246.00V253.70M432.36,399.00V391.30M432.36,246.00V253.70M495.29,399.00V391.30M495.29,246.00V253.70M558.22,399.00V391.30M558.22,246.00V253.70M621.15,399.00V391.30M621.15,246.00V253.70M684.07,399.00V391.30M684.07,246.00V253.70M54.80,360.75H62.50M747.00,360.75H739.30M54.80,322.50H62.50M747.00,322.50H739.30M54.80,284.25H62.50M747.00,284.25H739.30" fill="none" stroke="#262626" stroke-width="1.5"/>
<g font-family="&quot;Liberation Sans&quot;, sans-serif" font-size="16" fill="#262626" color="#262626">
<text x="50.352" y="419.700">0</text>
<text x="113.279" y="419.700">2</text>
<text x="176.207" y="419.700">4</text>
<text x="239.134" y="419.700">6</text>
<text x="302.061" y="419.700">8</text>
<path d="M763 0L583 0L583 1147Q518 1085 412 1023Q307 961 223 930L223 1104Q374 1175 487 1276Q600 1377 647 1472L763 1472Z" transform="translate(360.540,419.700) scale(0.00781,-0.00781)" fill="#262626" stroke="#262626" stroke-width="32.000"/><text x="369.436" y="419.700">0</text>
<path d="M763 0L583 0L583 1147Q518 1085 412 1023Q307 961 223 930L223 1104Q374 1175 487 1276Q600 1377 647 1472L763 1472Z" transform="translate(423.468,419.700) scale(0.00781,-0.00781)" fill="#262626" stroke="#262626" stroke-width="32.000"/><text x="432.364" y="419.700">2</text>
<path d="M763 0L583 0L583 1147Q518 1085 412 1023Q307 961 223 930L223 1104Q374 1175 487 1276Q600 1377 647 1472L763 1472Z" transform="translate(486.395,419.700) scale(0.00781,-0.00781)" fill="#262626" stroke="#262626" stroke-width="32.000"/><text x="495.291" y="419.700">4</text>
<path d="M763 0L583 0L583 1147Q518 1085 412 1023Q307 961 223 930L223 1104Q374 1175 487 1276Q600 1377 647 1472L763 1472Z" transform="translate(549.322,419.700) scale(0.00781,-0.00781)" fill="#262626" stroke="#262626" stroke-width="32.000"/><text x="558.218" y="419.700">6</text>
<path d="M763 0L583 0L583 1147Q518 1085 412 1023Q307 961 223 930L223 1104Q374 1175 487 1276Q600 1377 647 1472L763 1472Z" transform="translate(612.249,419.700) scale(0.00781,-0.00781)" fill="#262626" stroke="#262626" stroke-width="32.000"/><text x="621.145" y="419.700">8</text>
<text x="675.177" y="419.700">20</text>
<text x="738.104" y="419.700">22</text>
<text x="39.504" y="404.500">0</text>
<path d="M763 0L583 0L583 1147Q518 1085 412 1023Q307 961 223 930L223 1104Q374 1175 487 1276Q600 1377 647 1472L763 1472Z" transform="translate(39.504,366.250) scale(0.00781,-0.00781)" fill="#262626" stroke="#262626" stroke-width="32.000"/>
<text x="39.504" y="328.000">2</text>
<text x="39.504" y="289.750">3</text>
<text x="39.504" y="251.500">4</text>
</g>
<text x="400.90" y="440.40" text-anchor="middle" font-family="&quot;Liberation Sans&quot;, sans-serif" font-size="16.5" fill="#262626" color="#262626">t [s]</text>
<text transform="translate(32.00,323.00) rotate(-90)" text-anchor="middle" font-family="&quot;Liberation Sans&quot;, sans-serif" font-size="16.5" fill="#262626" color="#262626">Y [m]</text>
<rect x="54.80" y="467.00" width="692.20" height="154.20" fill="#fff"/>
<line x1="117.73" y1="467.00" x2="117.73" y2="621.20" stroke="#262626" stroke-opacity="0.17" stroke-width="1"/>
<line x1="180.65" y1="467.00" x2="180.65" y2="621.20" stroke="#262626" stroke-opacity="0.17" stroke-width="1"/>
<line x1="243.58" y1="467.00" x2="243.58" y2="621.20" stroke="#262626" stroke-opacity="0.17" stroke-width="1"/>
<line x1="306.51" y1="467.00" x2="306.51" y2="621.20" stroke="#262626" stroke-opacity="0.17" stroke-width="1"/>
<line x1="369.44" y1="467.00" x2="369.44" y2="621.20" stroke="#262626" stroke-opacity="0.17" stroke-width="1"/>
<line x1="432.36" y1="467.00" x2="432.36" y2="621.20" stroke="#262626" stroke-opacity="0.17" stroke-width="1"/>
<line x1="495.29" y1="467.00" x2="495.29" y2="621.20" stroke="#262626" stroke-opacity="0.17" stroke-width="1"/>
<line x1="558.22" y1="467.00" x2="558.22" y2="621.20" stroke="#262626" stroke-opacity="0.17" stroke-width="1"/>
<line x1="621.15" y1="467.00" x2="621.15" y2="621.20" stroke="#262626" stroke-opacity="0.17" stroke-width="1"/>
<line x1="684.07" y1="467.00" x2="684.07" y2="621.20" stroke="#262626" stroke-opacity="0.17" stroke-width="1"/>
<line x1="54.80" y1="582.65" x2="747.00" y2="582.65" stroke="#262626" stroke-opacity="0.17" stroke-width="1"/>
<line x1="54.80" y1="544.10" x2="747.00" y2="544.10" stroke="#262626" stroke-opacity="0.17" stroke-width="1"/>
<line x1="54.80" y1="505.55" x2="747.00" y2="505.55" stroke="#262626" stroke-opacity="0.17" stroke-width="1"/>
<g fill="none" stroke-width="1.90" stroke-linejoin="round" stroke-linecap="butt">
<path d="M54.80,578.30 L83.25,578.30 L85.85,571.60 L114.87,571.60 L117.47,564.00 L146.49,564.00 L149.09,556.40 L178.11,556.40 L180.71,553.30 L209.73,553.30 L212.33,547.00 L241.35,547.00 L243.95,534.80 L272.97,534.80 L275.57,514.60 L304.59,514.60 L307.19,493.00 L336.21,493.00 L338.81,497.40 L367.83,497.40 L370.43,510.00 L399.45,510.00 L402.05,511.50 L431.07,511.50 L433.67,522.30 L462.69,522.30 L465.29,539.10 L494.31,539.10 L496.91,551.70 L525.93,551.70 L528.53,564.20 L557.55,564.20 L560.15,576.50 L589.17,576.50 L591.77,584.10 L620.79,584.10 L623.39,576.40 L652.41,576.40 L655.01,571.80 L684.03,571.80 L686.63,567.30 L715.65,567.30 L718.25,554.80 L747.00,554.80" stroke="#0072BD"/>
<path d="M54.80,579.53 C56.77,579.38 63.58,579.17 66.60,578.65 C69.61,578.12 70.80,577.39 72.90,576.38 C75.00,575.37 77.10,573.69 79.20,572.60 C81.30,571.51 83.40,570.46 85.50,569.83 C87.60,569.20 89.70,568.78 91.80,568.82 C93.90,568.86 95.99,569.49 98.09,570.08 C100.19,570.67 102.29,571.82 104.39,572.35 C106.49,572.87 108.59,573.44 110.69,573.23 C112.79,573.02 114.89,571.72 116.99,571.09 C119.09,570.46 121.19,569.83 123.29,569.45 C125.39,569.07 127.49,569.09 129.59,568.82 C131.69,568.55 133.79,568.23 135.89,567.81 C137.99,567.39 139.12,567.25 142.19,566.30 C145.26,565.35 151.23,563.03 154.30,562.13 C157.37,561.22 158.50,561.29 160.60,560.87 C162.70,560.45 164.80,560.03 166.90,559.61 C169.00,559.19 171.10,558.77 173.20,558.35 C175.30,557.93 177.40,557.51 179.50,557.09 C181.60,556.67 183.70,555.93 185.80,555.83 C187.90,555.72 189.99,556.60 192.09,556.46 C194.19,556.31 196.71,555.57 198.39,554.94 C200.07,554.31 200.70,553.27 202.17,552.68 C203.64,552.09 205.32,551.67 207.21,551.42 C209.10,551.17 211.41,551.21 213.51,551.17 C215.61,551.12 217.71,551.17 219.81,551.17 C221.91,551.17 223.80,551.33 226.11,551.17 C228.42,551.00 231.57,550.64 233.67,550.16 C235.77,549.67 236.27,549.25 238.71,548.27 C241.15,547.28 245.65,545.13 248.30,544.25 C250.95,543.37 252.50,543.41 254.60,542.99 C256.70,542.57 258.80,542.36 260.90,541.73 C263.00,541.10 265.10,540.30 267.20,539.21 C269.30,538.12 271.40,536.34 273.50,535.18 C275.60,534.03 277.70,533.25 279.80,532.28 C281.90,531.32 283.99,530.65 286.09,529.39 C288.19,528.13 290.29,526.24 292.39,524.72 C294.49,523.21 296.59,521.85 298.69,520.31 C300.79,518.78 302.89,516.89 304.99,515.53 C307.09,514.16 309.19,512.84 311.29,512.13 C313.39,511.41 315.49,511.39 317.59,511.24 C319.69,511.10 321.79,511.66 323.89,511.24 C325.99,510.82 327.33,511.41 330.19,508.72 C333.05,506.04 338.39,497.91 341.04,495.12 C343.69,492.33 344.40,492.77 346.08,491.97 C347.76,491.17 349.44,490.60 351.12,490.33 C352.80,490.06 354.48,490.37 356.16,490.33 C357.84,490.29 359.31,490.23 361.20,490.08 C363.09,489.93 365.40,489.70 367.50,489.45 C369.60,489.20 371.70,488.88 373.80,488.57 C375.90,488.25 377.99,487.62 380.09,487.56 C382.19,487.50 384.50,487.66 386.39,488.19 C388.28,488.71 389.75,489.66 391.43,490.71 C393.11,491.76 394.79,493.33 396.47,494.49 C398.15,495.64 399.83,496.73 401.51,497.64 C403.19,498.54 404.87,499.23 406.55,499.91 C408.23,500.58 409.70,501.17 411.59,501.67 C413.48,502.17 415.79,502.59 417.89,502.93 C419.99,503.27 421.12,503.45 424.19,503.69 C427.26,503.92 433.23,503.95 436.30,504.33 C439.37,504.71 440.50,505.49 442.60,505.97 C444.70,506.45 446.80,506.75 448.90,507.23 C451.00,507.71 453.10,508.24 455.20,508.87 C457.30,509.50 459.40,510.23 461.50,511.01 C463.60,511.78 465.70,512.48 467.80,513.53 C469.90,514.58 471.99,516.26 474.09,517.31 C476.19,518.36 478.50,519.09 480.39,519.83 C482.28,520.56 483.75,520.67 485.43,521.72 C487.11,522.77 488.79,524.34 490.47,526.13 C492.15,527.91 493.83,530.43 495.51,532.43 C497.19,534.42 498.87,536.52 500.55,538.09 C502.23,539.67 503.70,540.93 505.59,541.87 C507.48,542.82 509.79,543.13 511.89,543.76 C513.99,544.39 516.30,544.92 518.19,545.65 C520.08,546.39 521.21,546.81 523.23,548.17 C525.25,549.54 528.07,552.39 530.30,553.86 C532.53,555.33 534.50,556.17 536.60,557.01 C538.70,557.85 540.80,558.90 542.90,558.90 C545.00,558.90 547.10,556.69 549.20,557.01 C551.30,557.32 553.40,559.32 555.50,560.79 C557.60,562.26 559.70,564.46 561.80,565.83 C563.90,567.19 565.99,568.35 568.09,568.98 C570.19,569.61 572.29,569.35 574.39,569.61 C576.49,569.86 578.59,569.92 580.69,570.49 C582.79,571.06 584.89,572.00 586.99,573.01 C589.09,574.02 591.19,575.42 593.29,576.54 C595.39,577.65 597.49,578.64 599.59,579.69 C601.69,580.73 603.79,581.78 605.89,582.83 C607.99,583.88 610.30,585.10 612.19,585.98 C614.08,586.87 615.21,587.30 617.23,588.13 C619.25,588.95 622.07,590.33 624.30,590.94 C626.53,591.56 628.50,591.62 630.60,591.83 C632.70,592.04 634.80,592.35 636.90,592.20 C639.00,592.06 641.10,591.68 643.20,590.94 C645.30,590.21 647.40,588.95 649.50,587.80 C651.60,586.64 653.70,585.07 655.80,584.02 C657.90,582.97 659.99,582.08 662.09,581.50 C664.19,580.91 666.29,580.80 668.39,580.49 C670.49,580.17 672.59,580.03 674.69,579.61 C676.79,579.19 678.89,578.60 680.99,577.97 C683.09,577.34 685.19,576.39 687.29,575.83 C689.39,575.26 691.70,574.84 693.59,574.57 C695.48,574.29 696.60,574.95 698.63,574.19 C700.66,573.43 703.91,571.10 705.75,570.02 C707.59,568.93 708.37,568.38 709.69,567.65 C711.00,566.93 712.31,566.14 713.62,565.69 C714.93,565.23 716.25,565.06 717.56,564.90 C718.87,564.74 720.18,564.74 721.50,564.74 C722.81,564.74 724.12,564.71 725.43,564.90 C726.75,565.08 728.06,565.38 729.37,565.84 C730.68,566.30 731.99,567.15 733.31,567.65 C734.62,568.15 735.93,568.70 737.24,568.83 C738.56,568.97 739.87,568.83 741.18,568.44 C742.49,568.05 744.15,567.09 745.12,566.47 C746.09,565.86 746.69,565.03 747.00,564.74" stroke="#EDB120"/>
<path d="M54.80,577.39 C56.77,577.32 63.58,577.28 66.60,577.01 C69.61,576.73 70.80,576.38 72.90,575.75 C75.00,575.12 77.10,573.92 79.20,573.23 C81.30,572.54 83.40,571.86 85.50,571.59 C87.60,571.32 89.70,571.42 91.80,571.59 C93.90,571.76 95.99,572.18 98.09,572.60 C100.19,573.02 102.29,573.94 104.39,574.11 C106.49,574.28 108.59,574.17 110.69,573.61 C112.79,573.04 114.89,571.46 116.99,570.71 C119.09,569.95 121.19,569.43 123.29,569.07 C125.39,568.71 127.49,568.78 129.59,568.57 C131.69,568.36 133.79,568.29 135.89,567.81 C137.99,567.33 139.12,566.72 142.19,565.67 C145.26,564.62 151.23,562.40 154.30,561.50 C157.37,560.59 158.50,560.61 160.60,560.24 C162.70,559.86 164.80,559.61 166.90,559.23 C169.00,558.85 171.10,558.47 173.20,557.97 C175.30,557.46 177.40,556.88 179.50,556.20 C181.60,555.53 183.70,554.52 185.80,553.94 C187.90,553.35 189.99,552.78 192.09,552.68 C194.19,552.57 196.29,553.10 198.39,553.31 C200.49,553.52 202.59,553.66 204.69,553.94 C206.79,554.21 208.89,554.63 210.99,554.94 C213.09,555.26 215.19,555.89 217.29,555.83 C219.39,555.76 221.49,555.05 223.59,554.57 C225.69,554.08 227.79,553.66 229.89,552.93 C231.99,552.19 233.12,551.71 236.19,550.16 C239.26,548.61 245.23,544.92 248.30,543.62 C251.37,542.32 252.50,542.78 254.60,542.36 C256.70,541.94 258.80,541.73 260.90,541.10 C263.00,540.47 265.10,539.70 267.20,538.58 C269.30,537.47 271.40,535.58 273.50,534.43 C275.60,533.27 277.70,532.64 279.80,531.65 C281.90,530.67 283.99,529.76 286.09,528.50 C288.19,527.24 290.29,525.46 292.39,524.09 C294.49,522.73 296.59,521.68 298.69,520.31 C300.79,518.95 302.89,517.21 304.99,515.91 C307.09,514.60 309.19,513.28 311.29,512.50 C313.39,511.73 315.49,511.45 317.59,511.24 C319.69,511.03 321.79,511.66 323.89,511.24 C325.99,510.82 327.33,511.31 330.19,508.72 C333.05,506.14 338.39,498.48 341.04,495.75 C343.69,493.02 344.40,493.19 346.08,492.35 C347.76,491.51 349.44,491.04 351.12,490.71 C352.80,490.37 354.48,490.27 356.16,490.33 C357.84,490.39 359.31,490.71 361.20,491.09 C363.09,491.46 365.40,492.24 367.50,492.60 C369.60,492.96 371.70,493.23 373.80,493.23 C375.90,493.23 377.99,492.70 380.09,492.60 C382.19,492.49 384.50,492.43 386.39,492.60 C388.28,492.77 389.75,493.02 391.43,493.61 C393.11,494.19 394.79,495.24 396.47,496.13 C398.15,497.01 399.83,498.06 401.51,498.90 C403.19,499.74 404.87,500.58 406.55,501.17 C408.23,501.75 409.70,502.13 411.59,502.43 C413.48,502.72 415.79,502.68 417.89,502.93 C419.99,503.18 421.12,503.49 424.19,503.94 C427.26,504.38 433.23,505.04 436.30,505.59 C439.37,506.14 440.50,506.54 442.60,507.23 C444.70,507.92 446.80,508.91 448.90,509.75 C451.00,510.59 453.10,511.43 455.20,512.27 C457.30,513.11 459.40,513.95 461.50,514.79 C463.60,515.63 465.70,516.36 467.80,517.31 C469.90,518.25 471.99,519.62 474.09,520.46 C476.19,521.30 478.50,521.97 480.39,522.35 C482.28,522.72 483.75,521.99 485.43,522.72 C487.11,523.46 488.79,525.24 490.47,526.76 C492.15,528.27 493.83,530.22 495.51,531.80 C497.19,533.37 498.87,535.11 500.55,536.20 C502.23,537.30 503.70,537.72 505.59,538.35 C507.48,538.98 509.79,539.40 511.89,539.98 C513.99,540.57 516.30,541.14 518.19,541.87 C520.08,542.61 521.21,543.13 523.23,544.39 C525.25,545.66 528.07,547.91 530.30,549.45 C532.53,550.98 534.71,552.83 536.60,553.61 C538.49,554.38 539.75,554.38 541.64,554.11 C543.53,553.84 546.05,551.84 547.94,551.97 C549.83,552.09 551.09,553.29 552.98,554.87 C554.87,556.44 557.18,559.53 559.28,561.42 C561.38,563.31 563.48,565.11 565.57,566.20 C567.67,567.30 569.77,567.51 571.87,567.97 C573.97,568.43 576.07,568.49 578.17,568.98 C580.27,569.46 582.37,570.03 584.47,570.87 C586.57,571.71 588.67,572.86 590.77,574.02 C592.87,575.17 594.97,576.64 597.07,577.80 C599.17,578.95 601.27,579.79 603.37,580.94 C605.47,582.10 607.78,583.46 609.67,584.72 C611.56,585.98 612.27,587.19 614.71,588.50 C617.15,589.81 621.65,591.97 624.30,592.58 C626.95,593.20 628.50,592.58 630.60,592.20 C632.70,591.83 634.80,590.94 636.90,590.31 C639.00,589.69 641.10,589.06 643.20,588.43 C645.30,587.80 647.40,587.31 649.50,586.54 C651.60,585.76 653.70,584.50 655.80,583.76 C657.90,583.03 659.99,582.55 662.09,582.13 C664.19,581.71 666.29,581.60 668.39,581.24 C670.49,580.89 672.59,580.47 674.69,579.98 C676.79,579.50 678.89,578.89 680.99,578.35 C683.09,577.80 685.19,577.19 687.29,576.71 C689.39,576.23 691.70,575.81 693.59,575.45 C695.48,575.09 696.60,575.60 698.63,574.57 C700.66,573.53 703.91,570.47 705.75,569.23 C707.59,567.98 708.37,567.76 709.69,567.10 C711.00,566.45 712.31,565.72 713.62,565.29 C714.93,564.86 716.25,564.67 717.56,564.50 C718.87,564.33 720.18,564.14 721.50,564.27 C722.81,564.40 724.12,564.79 725.43,565.29 C726.75,565.79 728.06,566.54 729.37,567.26 C730.68,567.98 731.99,569.23 733.31,569.62 C734.62,570.02 735.93,569.88 737.24,569.62 C738.56,569.36 739.87,568.83 741.18,568.05 C742.49,567.26 744.15,565.75 745.12,564.90 C746.09,564.04 746.69,563.26 747.00,562.93" stroke="#77AC30"/>
<path d="M54.80,580.41 C56.77,580.26 63.58,580.20 66.60,579.53 C69.61,578.86 70.80,577.53 72.90,576.38 C75.00,575.22 77.31,573.33 79.20,572.60 C81.09,571.86 82.56,571.76 84.24,571.97 C85.92,572.18 87.60,573.12 89.28,573.86 C90.96,574.59 92.43,575.71 94.31,576.38 C96.20,577.05 98.72,577.78 100.61,577.89 C102.50,577.99 103.97,577.68 105.65,577.01 C107.33,576.34 108.80,574.91 110.69,573.86 C112.58,572.81 114.89,571.44 116.99,570.71 C119.09,569.97 121.19,569.60 123.29,569.45 C125.39,569.30 127.49,569.68 129.59,569.83 C131.69,569.97 133.79,570.60 135.89,570.33 C137.99,570.06 139.12,569.07 142.19,568.19 C145.26,567.30 151.23,565.82 154.30,565.02 C157.37,564.22 158.50,563.93 160.60,563.39 C162.70,562.84 164.80,562.27 166.90,561.75 C169.00,561.22 171.10,560.80 173.20,560.24 C175.30,559.67 177.40,558.98 179.50,558.35 C181.60,557.72 183.70,557.09 185.80,556.46 C187.90,555.83 189.99,555.36 192.09,554.57 C194.19,553.77 196.29,552.30 198.39,551.67 C200.49,551.04 202.59,550.87 204.69,550.79 C206.79,550.70 208.89,550.64 210.99,551.17 C213.09,551.69 215.19,553.27 217.29,553.94 C219.39,554.61 221.49,555.09 223.59,555.20 C225.69,555.30 227.79,554.99 229.89,554.57 C231.99,554.15 233.12,554.19 236.19,552.68 C239.26,551.17 245.23,547.02 248.30,545.51 C251.37,544.00 252.50,544.25 254.60,543.62 C256.70,542.99 258.80,542.57 260.90,541.73 C263.00,540.89 265.10,539.84 267.20,538.58 C269.30,537.32 271.40,535.54 273.50,534.17 C275.60,532.81 277.70,531.49 279.80,530.39 C281.90,529.30 283.99,528.63 286.09,527.62 C288.19,526.61 290.29,525.46 292.39,524.35 C294.49,523.23 296.59,522.14 298.69,520.94 C300.79,519.75 302.89,518.36 304.99,517.17 C307.09,515.97 309.19,514.54 311.29,513.76 C313.39,512.99 315.49,512.84 317.59,512.50 C319.69,512.17 321.79,512.44 323.89,511.75 C325.99,511.06 327.33,510.91 330.19,508.35 C333.05,505.78 338.39,499.00 341.04,496.38 C343.69,493.75 344.40,493.48 346.08,492.60 C347.76,491.72 349.65,491.40 351.12,491.09 C352.59,490.77 353.22,490.50 354.90,490.71 C356.58,490.92 359.10,491.86 361.20,492.35 C363.30,492.83 365.40,493.46 367.50,493.61 C369.60,493.75 371.70,493.56 373.80,493.23 C375.90,492.89 377.99,491.95 380.09,491.59 C382.19,491.23 384.50,490.92 386.39,491.09 C388.28,491.25 389.75,491.82 391.43,492.60 C393.11,493.38 394.79,494.80 396.47,495.75 C398.15,496.69 399.83,497.53 401.51,498.27 C403.19,499.00 404.87,499.74 406.55,500.16 C408.23,500.58 409.70,500.68 411.59,500.79 C413.48,500.89 415.79,500.68 417.89,500.79 C419.99,500.89 421.12,501.04 424.19,501.42 C427.26,501.80 433.23,502.42 436.30,503.07 C439.37,503.72 440.50,504.58 442.60,505.34 C444.70,506.09 446.80,506.98 448.90,507.61 C451.00,508.24 453.10,508.45 455.20,509.12 C457.30,509.79 459.40,510.84 461.50,511.64 C463.60,512.44 465.70,512.96 467.80,513.91 C469.90,514.85 471.99,516.43 474.09,517.31 C476.19,518.19 478.50,518.57 480.39,519.20 C482.28,519.83 483.75,520.04 485.43,521.09 C487.11,522.14 488.79,523.71 490.47,525.50 C492.15,527.28 493.83,529.91 495.51,531.80 C497.19,533.69 498.87,535.47 500.55,536.83 C502.23,538.20 503.70,539.25 505.59,539.98 C507.48,540.72 509.79,540.72 511.89,541.24 C513.99,541.77 516.30,542.29 518.19,543.13 C520.08,543.97 521.21,544.75 523.23,546.28 C525.25,547.82 528.07,550.77 530.30,552.35 C532.53,553.92 534.50,554.97 536.60,555.75 C538.70,556.52 540.80,556.90 542.90,557.01 C545.00,557.11 547.10,555.85 549.20,556.38 C551.30,556.90 553.40,558.69 555.50,560.16 C557.60,561.63 559.70,563.83 561.80,565.20 C563.90,566.56 565.99,567.76 568.09,568.35 C570.19,568.93 572.29,568.58 574.39,568.72 C576.49,568.87 578.59,568.66 580.69,569.23 C582.79,569.80 584.89,571.12 586.99,572.13 C589.09,573.13 591.19,574.50 593.29,575.28 C595.39,576.05 597.70,576.16 599.59,576.79 C601.48,577.42 602.95,577.84 604.63,579.06 C606.31,580.27 607.99,582.67 609.67,584.09 C611.35,585.52 612.27,586.69 614.71,587.62 C617.15,588.55 621.65,589.45 624.30,589.69 C626.95,589.92 628.50,589.41 630.60,589.06 C632.70,588.70 634.80,588.01 636.90,587.54 C639.00,587.08 641.10,586.70 643.20,586.28 C645.30,585.86 647.40,585.51 649.50,585.02 C651.60,584.54 653.70,583.72 655.80,583.39 C657.90,583.05 659.99,583.01 662.09,583.01 C664.19,583.01 666.29,583.47 668.39,583.39 C670.49,583.30 672.59,583.03 674.69,582.50 C676.79,581.98 678.89,581.03 680.99,580.24 C683.09,579.44 685.19,578.30 687.29,577.72 C689.39,577.13 691.91,576.88 693.59,576.71 C695.27,576.54 695.34,577.89 697.37,576.71 C699.40,575.53 703.70,571.22 705.75,569.62 C707.80,568.02 708.37,567.76 709.69,567.10 C711.00,566.45 712.31,565.92 713.62,565.69 C714.93,565.45 716.25,565.42 717.56,565.69 C718.87,565.95 720.18,566.34 721.50,567.26 C722.81,568.18 724.12,570.02 725.43,571.20 C726.75,572.38 728.06,573.59 729.37,574.35 C730.68,575.11 731.99,575.63 733.31,575.76 C734.62,575.90 735.93,575.70 737.24,575.13 C738.56,574.57 739.87,573.43 741.18,572.38 C742.49,571.33 744.15,569.79 745.12,568.83 C746.09,567.88 746.69,567.00 747.00,566.63" stroke="#A2142F"/>
</g>
<path d="M54.80,467.00H747.00V621.20H54.80ZM117.73,621.20V613.50M117.73,467.00V474.70M180.65,621.20V613.50M180.65,467.00V474.70M243.58,621.20V613.50M243.58,467.00V474.70M306.51,621.20V613.50M306.51,467.00V474.70M369.44,621.20V613.50M369.44,467.00V474.70M432.36,621.20V613.50M432.36,467.00V474.70M495.29,621.20V613.50M495.29,467.00V474.70M558.22,621.20V613.50M558.22,467.00V474.70M621.15,621.20V613.50M621.15,467.00V474.70M684.07,621.20V613.50M684.07,467.00V474.70M54.80,582.65H62.50M747.00,582.65H739.30M54.80,544.10H62.50M747.00,544.10H739.30M54.80,505.55H62.50M747.00,505.55H739.30" fill="none" stroke="#262626" stroke-width="1.5"/>
<g font-family="&quot;Liberation Sans&quot;, sans-serif" font-size="16" fill="#262626" color="#262626">
<text x="50.352" y="641.900">0</text>
<text x="113.279" y="641.900">2</text>
<text x="176.207" y="641.900">4</text>
<text x="239.134" y="641.900">6</text>
<text x="302.061" y="641.900">8</text>
<path d="M763 0L583 0L583 1147Q518 1085 412 1023Q307 961 223 930L223 1104Q374 1175 487 1276Q600 1377 647 1472L763 1472Z" transform="translate(360.540,641.900) scale(0.00781,-0.00781)" fill="#262626" stroke="#262626" stroke-width="32.000"/><text x="369.436" y="641.900">0</text>
<path d="M763 0L583 0L583 1147Q518 1085 412 1023Q307 961 223 930L223 1104Q374 1175 487 1276Q600 1377 647 1472L763 1472Z" transform="translate(423.468,641.900) scale(0.00781,-0.00781)" fill="#262626" stroke="#262626" stroke-width="32.000"/><text x="432.364" y="641.900">2</text>
<path d="M763 0L583 0L583 1147Q518 1085 412 1023Q307 961 223 930L223 1104Q374 1175 487 1276Q600 1377 647 1472L763 1472Z" transform="translate(486.395,641.900) scale(0.00781,-0.00781)" fill="#262626" stroke="#262626" stroke-width="32.000"/><text x="495.291" y="641.900">4</text>
<path d="M763 0L583 0L583 1147Q518 1085 412 1023Q307 961 223 930L223 1104Q374 1175 487 1276Q600 1377 647 1472L763 1472Z" transform="translate(549.322,641.900) scale(0.00781,-0.00781)" fill="#262626" stroke="#262626" stroke-width="32.000"/><text x="558.218" y="641.900">6</text>
<path d="M763 0L583 0L583 1147Q518 1085 412 1023Q307 961 223 930L223 1104Q374 1175 487 1276Q600 1377 647 1472L763 1472Z" transform="translate(612.249,641.900) scale(0.00781,-0.00781)" fill="#262626" stroke="#262626" stroke-width="32.000"/><text x="621.145" y="641.900">8</text>
<text x="675.177" y="641.900">20</text>
<text x="738.104" y="641.900">22</text>
<text x="39.504" y="626.700">0</text>
<text x="26.163" y="588.150">0.5</text>
<path d="M763 0L583 0L583 1147Q518 1085 412 1023Q307 961 223 930L223 1104Q374 1175 487 1276Q600 1377 647 1472L763 1472Z" transform="translate(39.504,549.600) scale(0.00781,-0.00781)" fill="#262626" stroke="#262626" stroke-width="32.000"/>
<path d="M763 0L583 0L583 1147Q518 1085 412 1023Q307 961 223 930L223 1104Q374 1175 487 1276Q600 1377 647 1472L763 1472Z" transform="translate(26.163,511.050) scale(0.00781,-0.00781)" fill="#262626" stroke="#262626" stroke-width="32.000"/><text x="35.059" y="511.050">.5</text>
<text x="39.504" y="472.500">2</text>
</g>
<text x="400.90" y="662.60" text-anchor="middle" font-family="&quot;Liberation Sans&quot;, sans-serif" font-size="16.5" fill="#262626" color="#262626">t [s]</text>
<text transform="translate(17.90,544.60) rotate(-90)" text-anchor="middle" font-family="&quot;Liberation Sans&quot;, sans-serif" font-size="16.5" fill="#262626" color="#262626">Z [m]</text>
<text transform="translate(400.90,15.9)" text-anchor="middle" font-family="&quot;Liberation Sans&quot;, sans-serif" font-size="16.2" font-weight="bold" fill="#000" color="#000" class="ti">Quadcopter 2 tracking</text>
</svg>
</body></html>
